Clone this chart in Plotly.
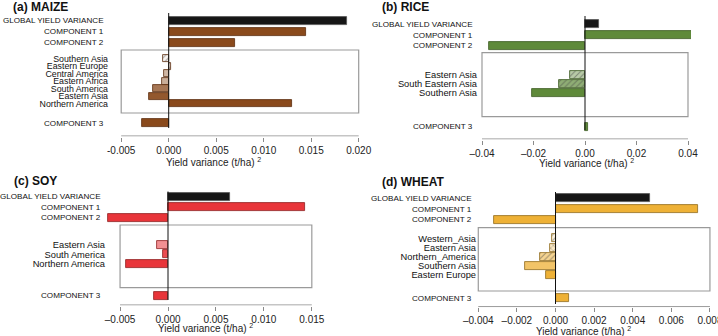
import plotly.graph_objects as go

# ── Data ──────────────────────────────────────────────────────────────────────
MAIN_LABELS = ["GLOBAL YIELD VARIANCE", "COMPONENT 1", "COMPONENT 2"]
COMP3_LABEL = "COMPONENT 3"

MAIZE_MAIN = [0.01874, 0.01449, 0.00701]
MAIZE_REGIONS = ["Southern Asia", "Eastern Europe", "Central America", "Eastern Africa",
                 "South America", "Eastern Asia", "Northern America"]
MAIZE_REGION_VALUES = [-0.0006, 0.00027, -0.0005, -0.00067, -0.0017, -0.00205, 0.01295]
MAIZE_COMP3 = -0.00281
MAIZE_TICKS = [-0.005, 0.0, 0.005, 0.010, 0.015, 0.020]
MAIZE_TICK_TEXT = ["-0.005", "0.000", "0.005", "0.010", "0.015", "0.020"]

RICE_MAIN = [0.00555, 0.0418, -0.0374]
RICE_REGIONS = ["Eastern Asia", "South Eastern Asia", "Southern Asia"]
RICE_REGION_VALUES = [-0.006, -0.0102, -0.0205]
RICE_COMP3 = 0.0012
RICE_TICKS = [-0.04, -0.02, 0.0, 0.02, 0.04]
RICE_TICK_TEXT = ["\u20130.04", "\u20130.02", "0.00", "0.02", "0.04"]

SOY_MAIN = [0.00647, 0.01432, -0.00626]
SOY_REGIONS = ["Eastern Asia", "South America", "Northern America"]
SOY_REGION_VALUES = [-0.00112, -0.00049, -0.00441]
SOY_COMP3 = -0.00146
SOY_TICKS = [-0.005, 0.0, 0.005, 0.010, 0.015]
SOY_TICK_TEXT = ["\u20130.005", "0.000", "0.005", "0.010", "0.015"]

WHEAT_MAIN = [0.0049, 0.00737, -0.00318]
WHEAT_REGIONS = ["Western_Asia", "Eastern Asia", "Northern_America", "Southern Asia", "Eastern Europe"]
WHEAT_REGION_VALUES = [-0.0002, -0.0003, -0.0008, -0.0016, -0.0005]
WHEAT_COMP3 = 0.0007
WHEAT_TICKS = [-0.004, -0.002, 0.0, 0.002, 0.004, 0.006, 0.008]
WHEAT_TICK_TEXT = ["\u20130.004", "\u20130.002", "0.000", "0.002", "0.004", "0.006", "0.008"]

# ── Styles ────────────────────────────────────────────────────────────────────
W, H = 718, 336
FONT = "Liberation Sans, Arial, sans-serif"
GLOBAL_COLOR = "#161616"
GLOBAL_EDGE = "#555555"
BOX_COLOR = "#9a9a9a"
AXIS_COLOR = "#8a8a8a"

MAIZE_SHADE = [0.06, 0.12, 0.4, 0.45, 0.75, 0.92, 1.0]
MAIZE_HATCH = ["/", "/", "", "", "", "", ""]
RICE_SHADE = [0.45, 0.7, 1.0]
RICE_HATCH = ["/", "/", ""]
SOY_SHADE = [0.55, 0.88, 1.0]
SOY_HATCH = ["", "", ""]
WHEAT_SHADE = [0.15, 0.3, 0.55, 0.75, 1.0]
WHEAT_HATCH = ["/", "x", "/", "", ""]

# pixel geometry of each panel (page coordinates)
GEOM_A = dict(left=109, right=362, zero=168.7, unit=47.5 / 0.005, top=10, axis=136,
              main0=20.7, step=11.0, box=(50, 113), reg0=58.7, reg_step=7.5, comp3=123.3,
              zspan=(13, 128), bar_w=8, reg_w=7, reg_font=8.8, title=(11, 7), xtitle=(213, 162))
GEOM_B = dict(left=478, right=691, zero=585, unit=51.5 / 0.02, top=10, axis=139,
              main0=24.3, step=10.7, box=(52.7, 116.7), reg0=75, reg_step=9.0, comp3=126.7,
              zspan=(16, 130), bar_w=8, reg_w=8, reg_font=9.3, title=(380, 7.3), xtitle=(586, 163))
GEOM_C = dict(left=106, right=314, zero=168, unit=1 / 1.043e-4, top=186, axis=305,
              main0=196.7, step=10.5, box=(225, 287.7), reg0=245, reg_step=9.35, comp3=295.7,
              zspan=(191.5, 300), bar_w=8, reg_w=8, reg_font=9.3, title=(12, 181), xtitle=(205, 328.3))
GEOM_D = dict(left=477, right=712, zero=555.5, unit=1 / 5.18e-5, top=186, axis=306.7,
              main0=198.3, step=10.8, box=(227.7, 291), reg0=238.3, reg_step=9.2, comp3=298.3,
              zspan=(192, 304), bar_w=8, reg_w=8, reg_font=9.3, title=(380, 181.7), xtitle=(583, 330.7))

PANELS = [
    dict(name="(a) MAIZE", main=MAIZE_MAIN, regions=MAIZE_REGIONS, rvals=MAIZE_REGION_VALUES,
         comp3=MAIZE_COMP3, ticks=MAIZE_TICKS, ticktext=MAIZE_TICK_TEXT, color="#8a4a1c",
         edge="#5a2c0c", shade=MAIZE_SHADE, hatch=MAIZE_HATCH, hatch_color="#8a4a1c", g=GEOM_A),
    dict(name="(b) RICE", main=RICE_MAIN, regions=RICE_REGIONS, rvals=RICE_REGION_VALUES,
         comp3=RICE_COMP3, ticks=RICE_TICKS, ticktext=RICE_TICK_TEXT, color="#5f8a3a",
         edge="#3c5a22", shade=RICE_SHADE, hatch=RICE_HATCH, hatch_color="rgba(255,255,255,0.55)", g=GEOM_B),
    dict(name="(c) SOY", main=SOY_MAIN, regions=SOY_REGIONS, rvals=SOY_REGION_VALUES,
         comp3=SOY_COMP3, ticks=SOY_TICKS, ticktext=SOY_TICK_TEXT, color="#e8353a",
         edge="#8e2020", shade=SOY_SHADE, hatch=SOY_HATCH, hatch_color="#e8353a", g=GEOM_C),
    dict(name="(d) WHEAT", main=WHEAT_MAIN, regions=WHEAT_REGIONS, rvals=WHEAT_REGION_VALUES,
         comp3=WHEAT_COMP3, ticks=WHEAT_TICKS, ticktext=WHEAT_TICK_TEXT, color="#eeb136",
         edge="#8f6a1c", shade=WHEAT_SHADE, hatch=WHEAT_HATCH, hatch_color="#c9901e", g=GEOM_D),
]


def shade(hex_color, a):
    """Mix a hex colour with white (a = 1 keeps the colour)."""
    rgb = [int(hex_color[i:i + 2], 16) for i in (1, 3, 5)]
    r, g, b = [round(c * a + 255 * (1 - a)) for c in rgb]
    return f"rgb({r},{g},{b})"


fig = go.Figure()
layout = dict(shapes=[], annotations=[])

for n, p in enumerate(PANELS, start=1):
    g = p["g"]
    xa, ya = ("x", "y") if n == 1 else (f"x{n}", f"y{n}")
    main_y = [g["main0"] + i * g["step"] for i in range(len(p["main"]))]
    reg_y = [g["reg0"] + i * g["reg_step"] for i in range(len(p["regions"]))]

    # global yield variance
    fig.add_trace(go.Bar(
        x=p["main"][:1], y=main_y[:1], orientation="h", width=g["bar_w"],
        marker=dict(color=GLOBAL_COLOR, line=dict(color=GLOBAL_EDGE, width=0.8)),
        xaxis=xa, yaxis=ya, showlegend=False,
    ))
    # components 1-3
    fig.add_trace(go.Bar(
        x=p["main"][1:] + [p["comp3"]], y=main_y[1:] + [g["comp3"]], orientation="h",
        width=g["bar_w"],
        marker=dict(color=p["color"], line=dict(color=p["edge"], width=0.8)),
        xaxis=xa, yaxis=ya, showlegend=False,
    ))
    # regional contributions
    fig.add_trace(go.Bar(
        x=p["rvals"], y=reg_y, orientation="h", width=g["reg_w"],
        marker=dict(
            color=[shade(p["color"], a) for a in p["shade"]],
            line=dict(color=p["edge"], width=0.8),
            pattern=dict(shape=p["hatch"], fillmode="overlay", fgcolor=p["hatch_color"],
                         size=4, solidity=0.25),
        ),
        xaxis=xa, yaxis=ya, showlegend=False,
    ))

    x0 = (g["left"] - g["zero"]) / g["unit"]
    x1 = (g["right"] - g["zero"]) / g["unit"]
    layout["xaxis" if n == 1 else f"xaxis{n}"] = dict(
        domain=[g["left"] / W, g["right"] / W], range=[x0, x1], anchor=ya, automargin=False,
        tickvals=p["ticks"], ticktext=p["ticktext"], ticks="outside", ticklen=4,
        tickcolor=AXIS_COLOR, showline=False, showgrid=False, zeroline=False,
        ticklabeloverflow="allow", tickfont=dict(size=10, color="#222"), fixedrange=True,
    )
    # region names as axis ticks; the upper-case rows go in as annotations below
    layout["yaxis" if n == 1 else f"yaxis{n}"] = dict(
        domain=[1 - (g["axis"] + 0.5) / H, 1 - g["top"] / H], range=[g["axis"] + 0.5, g["top"]],
        anchor=xa, automargin=False, tickvals=reg_y, ticktext=p["regions"], ticks="",
        showline=False, showgrid=False, zeroline=False,
        tickfont=dict(size=g["reg_font"], color="#111"), fixedrange=True,
    )

    for label, yv in zip(MAIN_LABELS + [COMP3_LABEL], main_y + [g["comp3"]]):
        layout["annotations"].append(dict(
            text=label, xref="paper", yref=ya, x=(g["left"] - 3) / W, y=yv,
            xanchor="right", yanchor="middle", showarrow=False,
            font=dict(size=8.1, color="#111"),
        ))

    # region box, axis line and zero line
    layout["shapes"] += [
        dict(type="rect", xref=xa, yref=ya, x0=p["ticks"][0], x1=p["ticks"][-1],
             y0=g["box"][0], y1=g["box"][1], line=dict(color=BOX_COLOR, width=1.2), layer="below"),
        dict(type="line", xref=xa, yref=ya, x0=p["ticks"][0], x1=p["ticks"][-1],
             y0=g["axis"], y1=g["axis"], line=dict(color=AXIS_COLOR, width=1)),
        dict(type="line", xref=xa, yref=ya, x0=0, x1=0, y0=g["zspan"][0], y1=g["zspan"][1],
             line=dict(color="#111", width=1)),
    ]
    layout["annotations"] += [
        dict(text=f"<b>{p['name']}</b>", xref="paper", yref="paper", x=g["title"][0] / W,
             y=1 - g["title"][1] / H, xanchor="left", yanchor="middle", showarrow=False,
             font=dict(size=12, color="#111")),
        dict(text="Yield variance (t/ha) <sup>2</sup>", xref="paper", yref="paper",
             x=g["xtitle"][0] / W, y=1 - g["xtitle"][1] / H, xanchor="center", yanchor="middle",
             showarrow=False, font=dict(size=10, color="#222")),
    ]

fig.update_layout(
    width=W, height=H, autosize=False,
    margin=dict(l=0, r=0, t=0, b=0, autoexpand=False),
    paper_bgcolor="white", plot_bgcolor="white",
    barmode="overlay", bargap=0,
    font=dict(family=FONT, color="#111"),
    **layout,
)

# the page's default 8px body margin would push the 718x336 figure off the window
fig.write_html("out.html", config={"displayModeBar": False},
               post_script="document.body.style.margin = '0';")
